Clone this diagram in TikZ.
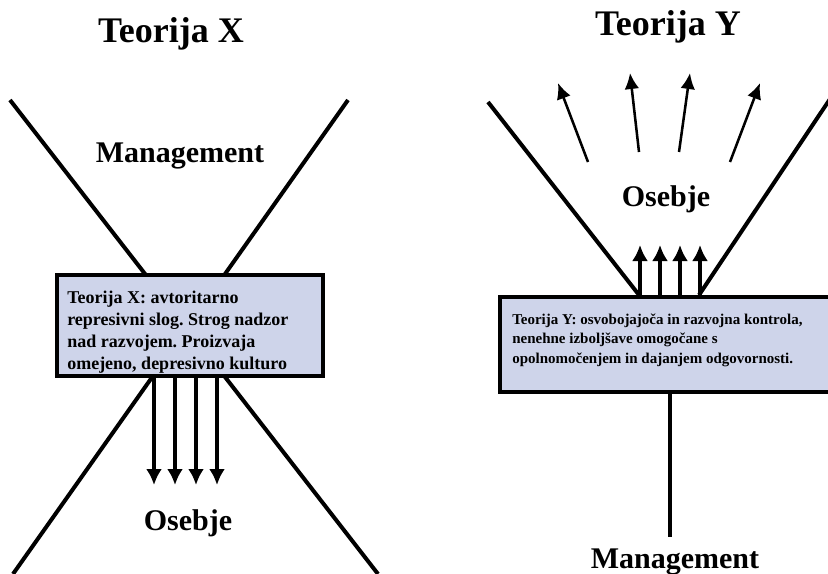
\documentclass[tikz,border=0pt]{standalone}
\usepackage{fontspec}
\setmainfont{Liberation Serif}
\usetikzlibrary{arrows.meta}
\definecolor{boxfill}{RGB}{206,212,234}
\frenchspacing

\begin{document}
\begin{tikzpicture}[x=0.75pt,y=-0.75pt,
    bigline/.style={line width=3pt},
    thickarrow/.style={line width=2.3pt,-{Latex[length=12pt,width=12pt]}},
    fanarrow/.style={line width=1.9pt,-{Latex[length=12pt,width=11pt]}},
    theorybox/.style={draw,line width=2.6pt,fill=boxfill,inner sep=0pt},
    heading/.style={font=\fontsize{27}{32}\selectfont\bfseries,anchor=base},
    partname/.style={font=\fontsize{22.5}{27}\selectfont\bfseries,anchor=base},
    boxtext/.style={font=\fontsize{13.5}{16.5}\selectfont\bfseries,align=left,inner sep=0pt,anchor=north west}]
    \useasboundingbox (0,0) rectangle (828,574);
    % Teorija X
    \node[heading] (titleX) at (171,43) {Teorija X};
    \draw[bigline] (10,100)--(378,574);
    \draw[bigline] (348,100)--(13,574);
    \foreach \x in {154,175,196,217}
      \draw[thickarrow] (\x,0 |- 0,376)--(\x,485);
    \node[theorybox,minimum width=199.5pt,minimum height=75.75pt] (boxX) at (190,325.5) {};
    \node[boxtext] (textX) at (67,291) {Teorija X: avtoritarno\\represivni slog. Strog nadzor\\nad razvojem. Proizvaja\\omejeno, depresivno kulturo};
    \node[partname] (mgmtX) at (180,163) {Management};
    \node[partname] (peopleX) at (188,530) {Osebje};
    % Teorija Y
    \node[heading] (titleY) at (668,36) {Teorija Y};
    \draw[bigline] (488,102)--(639,295);
    \draw[bigline] (830,99)--(699,295);
    \node[theorybox,minimum width=255pt,minimum height=71.25pt] (boxY) at (670,344.5) {};
    \foreach \x in {640,660,680,700}
      \draw[thickarrow] (\x,0 |- boxY.north)--(\x,245);
    \draw[bigline] (boxY.south)--(670,537);
    \foreach \a/\b/\c/\d in {588/162/558/83,639/152/630/73,679/152/690/73,730/162/760/83}
      \draw[fanarrow] (\a,\b)--(\c,\d);
    \node[boxtext,font=\fontsize{11.25}{14.5}\selectfont\bfseries] (textY) at (512,313.5) {Teorija Y: osvobojajoča in razvojna kontrola,\\nenehne izboljšave omogočane s\\opolnomočenjem in dajanjem odgovornosti.};
    \node[partname] (peopleY) at (666,207) {Osebje};
    \node[partname] (mgmtY) at (675,568) {Management};
  \end{tikzpicture}
\end{document}
